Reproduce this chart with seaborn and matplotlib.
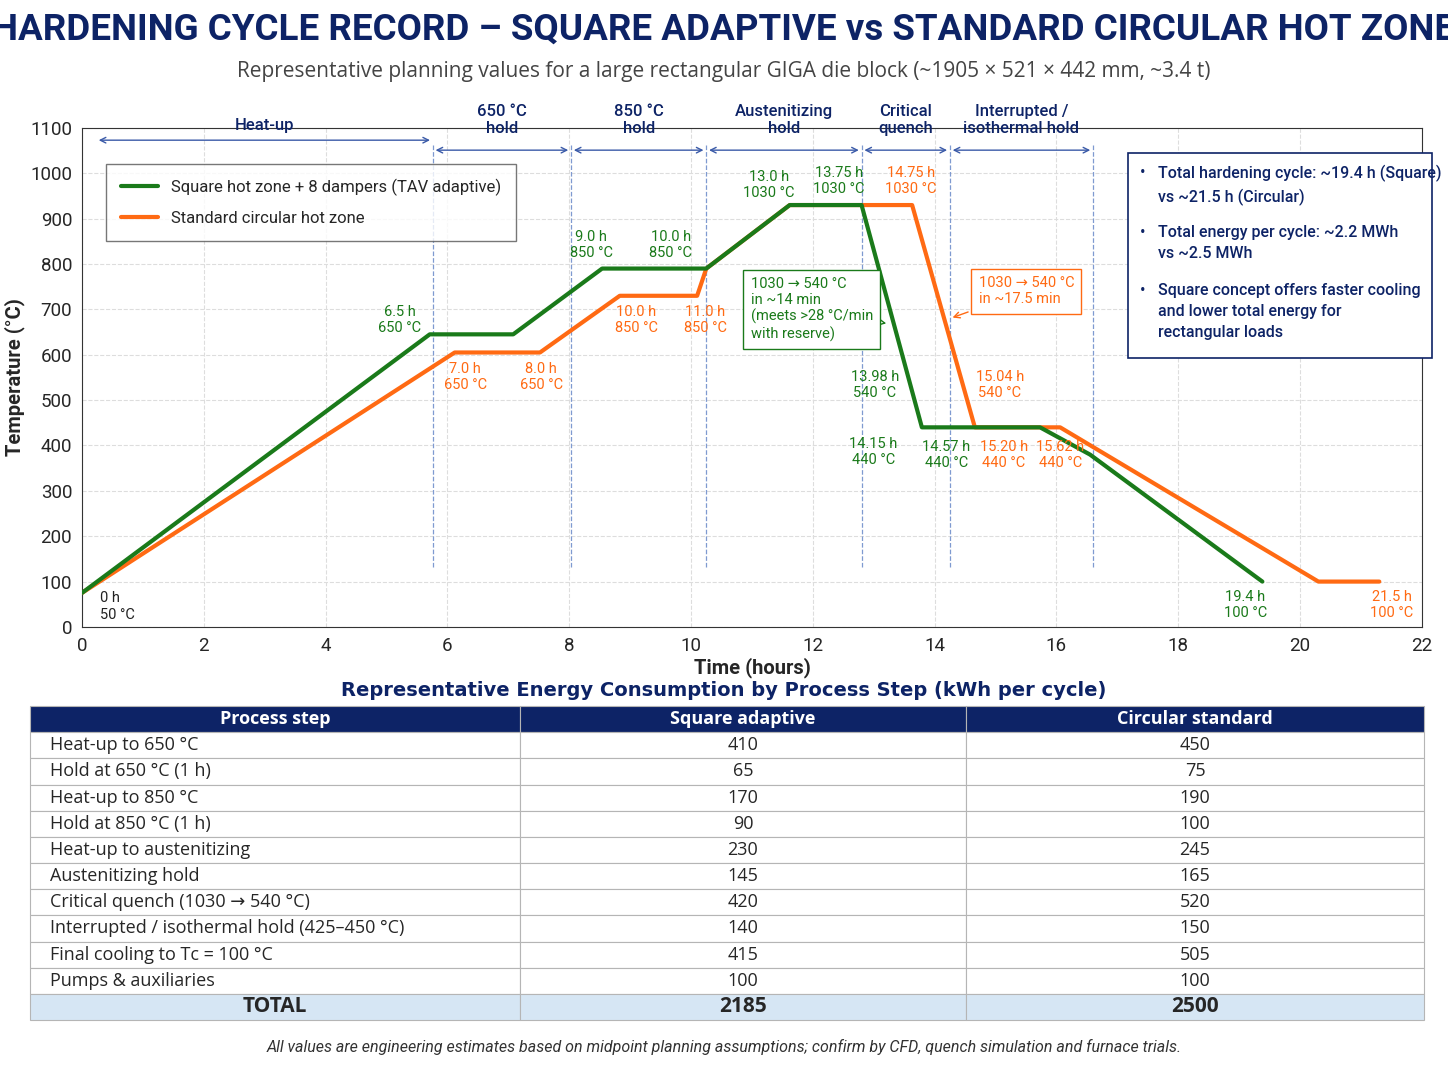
import matplotlib
matplotlib.use("Agg")
import matplotlib.pyplot as plt
import seaborn as sns

sns.set_style("white")
plt.rcParams['font.family'] = ['Roboto', 'DejaVu Sans']

NAVY = "#0d2366"
GREEN = "#1a7a1a"
ORANGE = "#ff6a13"

# cycle curves (time h, temperature C)
sq_t = [0, 5.71, 7.08, 8.54, 10.25, 11.62, 12.8, 13.79, 15.73, 16.55, 19.38]
sq_T = [75, 645, 645, 790, 790, 930, 930, 440, 440, 380, 100]
ci_t = [0, 6.12, 7.52, 8.83, 10.1, 10.25, 11.62, 13.63, 14.66, 16.06, 20.3, 21.3]
ci_T = [75, 605, 605, 730, 730, 790, 930, 930, 440, 440, 100, 100]

# point annotations: x, y, text, colour
notes = [
    (0.3, 45, "0 h\n50 °C", "#222222", "left"),
    (5.22, 677, "6.5 h\n650 °C", GREEN, "center"),
    (6.29, 551, "7.0 h\n650 °C", ORANGE, "center"),
    (7.54, 551, "8.0 h\n650 °C", ORANGE, "center"),
    (8.36, 842, "9.0 h\n850 °C", GREEN, "center"),
    (9.67, 842, "10.0 h\n850 °C", GREEN, "center"),
    (9.1, 677, "10.0 h\n850 °C", ORANGE, "center"),
    (10.23, 677, "11.0 h\n850 °C", ORANGE, "center"),
    (11.28, 974, "13.0 h\n1030 °C", GREEN, "center"),
    (12.43, 983, "13.75 h\n1030 °C", GREEN, "center"),
    (13.61, 983, "14.75 h\n1030 °C", ORANGE, "center"),
    (13.02, 533, "13.98 h\n540 °C", GREEN, "center"),
    (15.07, 533, "15.04 h\n540 °C", ORANGE, "center"),
    (12.99, 386, "14.15 h\n440 °C", GREEN, "center"),
    (14.19, 379, "14.57 h\n440 °C", GREEN, "center"),
    (15.14, 379, "15.20 h\n440 °C", ORANGE, "center"),
    (16.06, 379, "15.62 h\n440 °C", ORANGE, "center"),
    (19.1, 48, "19.4 h\n100 °C", GREEN, "center"),
    (21.5, 48, "21.5 h\n100 °C", ORANGE, "center"),
]

# process phases
phase_names = ["Heat-up", "650 °C\nhold", "850 °C\nhold", "Austenitizing\nhold",
               "Critical\nquench", "Interrupted /\nisothermal hold"]
phase_edges = [0.23, 5.76, 8.03, 10.25, 12.8, 14.25, 16.6]

# energy table
steps = ["Heat-up to 650 °C", "Hold at 650 °C (1 h)", "Heat-up to 850 °C", "Hold at 850 °C (1 h)",
         "Heat-up to austenitizing", "Austenitizing hold", "Critical quench (1030 → 540 °C)",
         "Interrupted / isothermal hold (425–450 °C)", "Final cooling to Tc = 100 °C",
         "Pumps & auxiliaries"]
square_kwh = [410, 65, 170, 90, 230, 145, 420, 140, 415, 100]
circular_kwh = [450, 75, 190, 100, 245, 165, 520, 150, 505, 100]

fig = plt.figure(figsize=(14.48, 10.86), dpi=100)
fig.text(0.5, 0.973, "HARDENING CYCLE RECORD – SQUARE ADAPTIVE vs STANDARD CIRCULAR HOT ZONE",
         ha="center", va="center", fontsize=26.5, fontweight="bold", color=NAVY)
fig.text(0.5, 0.934, "Representative planning values for a large rectangular GIGA die block (~1905 × 521 × 442 mm, ~3.4 t)",
         ha="center", va="center", fontsize=15, color="#444444", family=["Open Sans", "DejaVu Sans"])

ax = fig.add_axes([0.0566, 0.4227, 0.9254, 0.4595])
ax.grid(True, color="#dddddd", linestyle="--", linewidth=0.8)
sns.lineplot(x=sq_t, y=sq_T, ax=ax, color=GREEN, lw=3, sort=False, zorder=4,
             label="Square hot zone + 8 dampers (TAV adaptive)")
sns.lineplot(x=ci_t, y=ci_T, ax=ax, color=ORANGE, lw=3, sort=False, zorder=3,
             label="Standard circular hot zone")
ax.set_xlim(0, 22)
ax.set_ylim(0, 1100)
ax.set_xticks(range(0, 23, 2))
ax.set_yticks(range(0, 1101, 100))
ax.tick_params(labelsize=13.5)
ax.set_xlabel("Time (hours)", fontsize=14.5, fontweight="bold", labelpad=2)
ax.set_ylabel("Temperature (°C)", fontsize=14.5, fontweight="bold")
for s in ax.spines.values():
    s.set_color("#333333")

leg = ax.legend(loc="upper left", bbox_to_anchor=(0.012, 0.945), fontsize=12,
                frameon=True, fancybox=False, edgecolor="#555555", borderpad=0.9,
                labelspacing=0.9, handlelength=2.2)

for x, y, txt, col, ha in notes:
    ax.text(x, y, txt, color=col, ha=ha, va="center", fontsize=10.5, linespacing=1.2, zorder=6)

# phase arrows and dashed separators
for i, name in enumerate(phase_names):
    a, b = phase_edges[i], phase_edges[i + 1]
    yy = 1073 if i == 0 else 1051
    ax.annotate("", xy=(a, yy), xytext=(b, yy),
                arrowprops=dict(arrowstyle="<->", color="#3a5aa8", lw=1))
    ax.text((a + b) / 2, 1118 if i else 1088, name, ha="center", va="center" if i else "bottom",
            fontsize=12, color=NAVY, fontweight="medium", clip_on=False)
for e in phase_edges[1:]:
    ax.axvline(e, ymin=0.12, ymax=0.97, color="#7f9ad0", ls="--", lw=0.9, zorder=1)

# quench callouts
ax.annotate("1030 → 540 °C\nin ~14 min\n(meets >28 °C/min\nwith reserve)",
            xy=(13.25, 668), xytext=(10.98, 700), fontsize=10.5, color=GREEN, va="center",
            bbox=dict(boxstyle="square,pad=0.5", fc="white", ec=GREEN, lw=1),
            arrowprops=dict(arrowstyle="->", color=GREEN, lw=1), zorder=7)
ax.annotate("1030 → 540 °C\nin ~17.5 min", xy=(14.25, 680), xytext=(14.72, 740),
            fontsize=10.5, color=ORANGE, va="center",
            bbox=dict(boxstyle="square,pad=0.5", fc="white", ec=ORANGE, lw=1),
            arrowprops=dict(arrowstyle="->", color=ORANGE, lw=1), zorder=7)

# info box
fig.patches.append(plt.Rectangle((1128 / 1448, 1 - 358 / 1086), 304 / 1448, 205 / 1086,
                                 transform=fig.transFigure, fc="white", ec=NAVY, lw=1.2))
info = ["Total hardening cycle: ~19.4 h (Square)\nvs ~21.5 h (Circular)",
        "Total energy per cycle: ~2.2 MWh\nvs ~2.5 MWh",
        "Square concept offers faster cooling\nand lower total energy for\nrectangular loads"]
for k, (txt, ypx) in enumerate(zip(info, [165, 225, 283])):
    fig.text(1140 / 1448, 1 - ypx / 1086, "•", color=NAVY, fontsize=12, va="top")
    fig.text(1158 / 1448, 1 - ypx / 1086, txt, color=NAVY, fontsize=11.5, va="top",
             linespacing=1.5, fontweight="medium")

# table
fig.text(0.5, 1 - 691 / 1086, "Representative Energy Consumption by Process Step (kWh per cycle)",
         ha="center", va="center", fontsize=14, fontweight="bold", color=NAVY,
         family=["DejaVu Sans"])
tax = fig.add_axes([30 / 1448, 1 - 1020 / 1086, 1394 / 1448, 314 / 1086])
tax.axis("off")
rows = [[s, str(a), str(b)] for s, a, b in zip(steps, square_kwh, circular_kwh)]
rows.append(["TOTAL", str(sum(square_kwh)), str(sum(circular_kwh))])
tbl = tax.table(cellText=rows, colLabels=["Process step", "Square adaptive", "Circular standard"],
                colWidths=[490 / 1394, 446 / 1394, 458 / 1394], bbox=[0, 0, 1, 1], cellLoc="center")
tbl.auto_set_font_size(False)
nrow = len(rows)
for (r, c), cell in tbl.get_celld().items():
    cell.set_edgecolor("#b5b5b5")
    cell.set_linewidth(0.8)
    cell.PAD = 0.04
    t = cell.get_text()
    t.set_fontsize(13)
    t.set_fontfamily(["Open Sans", "DejaVu Sans"])
    if r == 0:
        cell.set_facecolor(NAVY)
        t.set_color("white")
        t.set_fontweight("bold")
    elif r == nrow:
        cell.set_facecolor("#d6e6f4")
        t.set_fontweight("bold")
        t.set_fontsize(15)
    if c == 0 and 0 < r < nrow:
        cell._loc = "left"
        t.set_ha("left")

fig.text(0.5, 1 - 1047 / 1086, "All values are engineering estimates based on midpoint planning assumptions; "
         "confirm by CFD, quench simulation and furnace trials.", ha="center", va="center",
         fontsize=11.5, style="italic", color="#333333")

fig.savefig("out.png", dpi=100)
